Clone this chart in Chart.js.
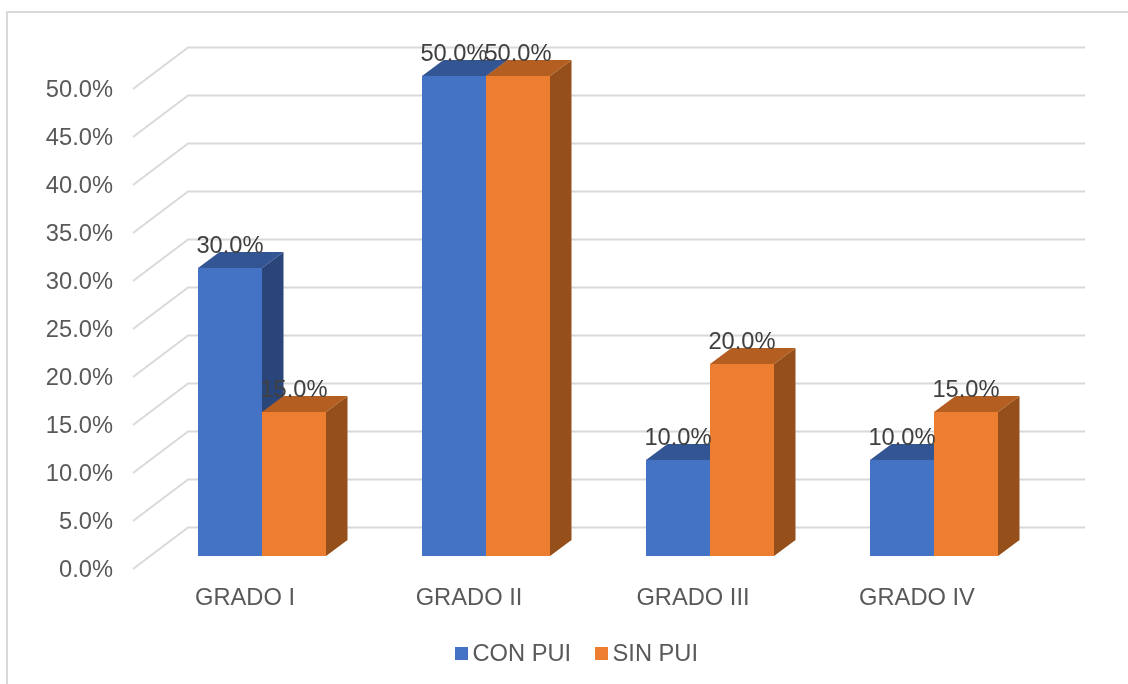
<!DOCTYPE html>
<html>
<head>
<meta charset="utf-8">
<style>
  html, body { margin: 0; padding: 0; background: #fff; overflow: hidden; }
  #marco { position: absolute; left: 6px; top: 11px; width: 1122px; height: 673px; border-left: 2px solid #d9d9d9; border-top: 2px solid #d9d9d9; box-sizing: border-box; }
  canvas { position: absolute; left: 0; top: 0; }
</style>
<script src="https://cdn.jsdelivr.net/npm/chart.js@4/dist/chart.umd.min.js"></script>
</head>
<body>
<div id="marco"></div>
<canvas id="grafico" width="1128" height="684"></canvas>
<script>
const CATEGORIAS = ["GRADO I", "GRADO II", "GRADO III", "GRADO IV"];
const CON_PUI = [30, 50, 10, 10];
const SIN_PUI = [15, 50, 20, 15];
const NOMBRES = ["CON PUI", "SIN PUI"];

const FUENTE = "'Liberation Sans', Arial, sans-serif";
const TAM = 23.7;
const FRENTE = ["#4472C4", "#ED7D31"];
const LADO = ["#2A4579", "#954F1B"];
const TAPA = ["#335593", "#B55E22"];

function fmt(v) { return v.toFixed(1) + "%"; }

/* Reja en perspectiva: diagonal + linea del fondo */
function dibujarReja(chart) {
    const { ctx, chartArea, scales } = chart;
    const y = scales.y;
    ctx.save();
    ctx.strokeStyle = "#d9d9d9";
    ctx.lineWidth = 2;
    ctx.lineJoin = "round";
    for (const t of y.ticks) {
        const py = y.getPixelForValue(t.value);
        ctx.beginPath();
        ctx.moveTo(chartArea.left - 17, py + 13);
        ctx.lineTo(chartArea.left + 38, py - 28.5);
        ctx.lineTo(chartArea.right + 39, py - 28.5);
        ctx.stroke();
    }
    ctx.restore();
}

/* Lado y tapa de cada barra */
function dibujarCaras(chart) {
    const ctx = chart.ctx;
    const dx = 21.5, dy = 16;
    ctx.save();
    chart.data.datasets.forEach((ds, i) => {
        chart.getDatasetMeta(i).data.forEach(b => {
            const izq = b.x - b.width / 2;
            const der = b.x + b.width / 2;
            ctx.fillStyle = LADO[i];
            ctx.beginPath();
            ctx.moveTo(der, b.y);
            ctx.lineTo(der + dx, b.y - dy);
            ctx.lineTo(der + dx, b.base - dy);
            ctx.lineTo(der, b.base);
            ctx.closePath();
            ctx.fill();
            ctx.fillStyle = TAPA[i];
            ctx.beginPath();
            ctx.moveTo(izq, b.y);
            ctx.lineTo(izq + dx, b.y - dy);
            ctx.lineTo(der + dx, b.y - dy);
            ctx.lineTo(der, b.y);
            ctx.closePath();
            ctx.fill();
        });
    });
    ctx.restore();
}

const plugin3D = {
    id: "barras3d",
    beforeDatasetsDraw(chart) {
        dibujarReja(chart);
        dibujarCaras(chart);
    },
    afterDatasetsDraw(chart) {
        const ctx = chart.ctx;
        ctx.save();
        ctx.font = TAM + "px " + FUENTE;
        ctx.fillStyle = "#404040";
        ctx.textAlign = "center";
        ctx.textBaseline = "middle";
        chart.data.datasets.forEach((ds, i) => {
            chart.getDatasetMeta(i).data.forEach((b, j) => {
                ctx.fillText(fmt(ds.data[j]), b.x, b.y - 22);
            });
        });
        ctx.restore();
    }
};

/* Leyenda: el cuadro va pegado al texto */
const pluginLeyenda = {
    id: "leyenda",
    afterDraw(chart) {
        const ctx = chart.ctx;
        ctx.save();
        ctx.font = TAM + "px " + FUENTE;
        ctx.textBaseline = "middle";
        const xs = [455, 595];
        chart.data.datasets.forEach((ds, i) => {
            ctx.fillStyle = FRENTE[i];
            ctx.fillRect(xs[i], 647, 13, 13);
            ctx.fillStyle = "#595959";
            ctx.fillText(ds.label, xs[i] + 17.5, 654.5);
        });
        ctx.restore();
    }
};

new Chart(document.getElementById("grafico"), {
    type: "bar",
    data: {
        labels: CATEGORIAS,
        datasets: [
            { label: NOMBRES[0], data: CON_PUI, backgroundColor: FRENTE[0], barPercentage: 1, categoryPercentage: 128 / 224 },
            { label: NOMBRES[1], data: SIN_PUI, backgroundColor: FRENTE[1], barPercentage: 1, categoryPercentage: 128 / 224 }
        ]
    },
    options: {
        responsive: false,
        animation: false,
        devicePixelRatio: 1,
        layout: { autoPadding: false, padding: { top: 76, right: 82, left: 0, bottom: 0 } },
        plugins: { legend: { display: false }, tooltip: { enabled: false } },
        scales: {
            x: {
                afterFit(s) { s.height = 128; },
                grid: { display: false, drawTicks: false },
                border: { display: false },
                ticks: {
                    color: "#595959",
                    font: { family: FUENTE, size: TAM },
                    padding: 28,
                    labelOffset: -17,
                    maxRotation: 0,
                    autoSkip: false
                }
            },
            y: {
                min: 0,
                max: 50,
                afterFit(s) { s.width = 150; },
                grid: { display: false, drawTicks: false },
                border: { display: false },
                ticks: {
                    stepSize: 5,
                    color: "#595959",
                    font: { family: FUENTE, size: TAM },
                    padding: 37,
                    labelOffset: 14,
                    callback: v => fmt(v)
                }
            }
        }
    },
    plugins: [plugin3D, pluginLeyenda]
});
</script>
</body>
</html>
